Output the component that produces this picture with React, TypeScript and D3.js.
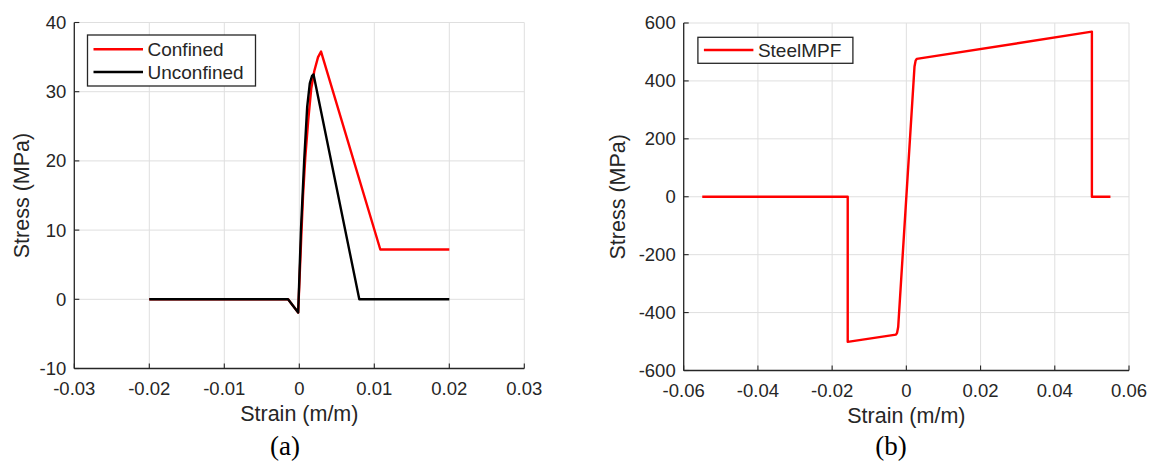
import React from 'react';
import * as d3 from 'd3';

// ---------- data ----------
const confinedStrain = [-0.02, -0.0015, -0.00015, 0.0003, 0.0005, 0.0008, 0.0012, 0.0016, 0.002, 0.0025, 0.0029, 0.0108, 0.02];
const confinedStress = [0, 0, -1.9, 10, 15, 20.5, 26, 30.5, 33, 35, 35.8, 7.2, 7.2];

const unconfinedStrain = [-0.02, -0.0015, -0.00015, 0.00022, 0.00065, 0.00105, 0.0014, 0.0017, 0.0019, 0.008, 0.02];
const unconfinedStress = [0, 0, -1.9, 10, 20, 27.8, 31.2, 32.3, 32.5, 0, 0];

const steelStrain = [-0.055, -0.0158, -0.0158, -0.0028, -0.0025, -0.0022, 0.0022, 0.0025, 0.0028, 0.05, 0.05, 0.055];
const steelStress = [0, 0, -501, -476, -470, -450, 450, 470, 476, 570, 0, 0];

const aXTicks = [-0.03, -0.02, -0.01, 0, 0.01, 0.02, 0.03];
const aXTickLabels = ['-0.03', '-0.02', '-0.01', '0', '0.01', '0.02', '0.03'];
const aYTicks = [-10, 0, 10, 20, 30, 40];
const aYTickLabels = ['-10', '0', '10', '20', '30', '40'];

const bXTicks = [-0.06, -0.04, -0.02, 0, 0.02, 0.04, 0.06];
const bXTickLabels = ['-0.06', '-0.04', '-0.02', '0', '0.02', '0.04', '0.06'];
const bYTicks = [-600, -400, -200, 0, 200, 400, 600];
const bYTickLabels = ['-600', '-400', '-200', '0', '200', '400', '600'];

const seriesNamesA = ['Confined', 'Unconfined'];
const seriesNamesB = ['SteelMPF'];
const xLabel = 'Strain (m/m)';
const yLabel = 'Stress (MPa)';
const captions = ['(a)', '(b)'];

// ---------- styling ----------
const SANS = '"Liberation Sans", Arial, Helvetica, sans-serif';
const SERIF = '"Liberation Serif", "Times New Roman", serif';
const AX = '#262626';
const GRID = '#dfdfdf';
const TICK_FS = 18.5;
const LABEL_FS = 21.5;

type Series = { xs: number[]; ys: number[]; color: string; name: string };

type PanelProps = {
  x0: number; x1: number; y0: number; y1: number;
  xDomain: [number, number]; yDomain: [number, number];
  xTicks: number[]; xTickLabels: string[];
  yTicks: number[]; yTickLabels: string[];
  series: Series[];
  legend: { x: number; y: number; w: number; h: number; firstRow: number; rowGap: number };
  yLabelX: number;
  caption: string; captionX: number;
};

function Panel(p: PanelProps) {
  const x = d3.scaleLinear().domain(p.xDomain).range([p.x0, p.x1]);
  const y = d3.scaleLinear().domain(p.yDomain).range([p.y1, p.y0]);
  const line = d3.line<[number, number]>().x(d => x(d[0])).y(d => y(d[1]));
  const tickLen = 5;
  const cx = (p.x0 + p.x1) / 2;
  const cy = (p.y0 + p.y1) / 2;
  return (
    <g>
      {/* grid */}
      {p.xTicks.map((t, i) => (
        <line key={'gx' + i} x1={x(t)} x2={x(t)} y1={p.y0} y2={p.y1} stroke={GRID} strokeWidth={1} />
      ))}
      {p.yTicks.map((t, i) => (
        <line key={'gy' + i} x1={p.x0} x2={p.x1} y1={y(t)} y2={y(t)} stroke={GRID} strokeWidth={1} />
      ))}
      {/* series */}
      {p.series.map((s, i) => (
        <path key={'s' + i} d={line(s.xs.map((v, j) => [v, s.ys[j]] as [number, number])) || ''}
          fill="none" stroke={s.color} strokeWidth={2.4} strokeLinejoin="round" />
      ))}
      {/* axes */}
      <line x1={p.x0} x2={p.x1} y1={p.y1} y2={p.y1} stroke={AX} strokeWidth={1.3} />
      <line x1={p.x0} x2={p.x0} y1={p.y0} y2={p.y1} stroke={AX} strokeWidth={1.3} />
      {p.xTicks.map((t, i) => (
        <g key={'tx' + i}>
          <line x1={x(t)} x2={x(t)} y1={p.y1} y2={p.y1 - tickLen} stroke={AX} strokeWidth={1.1} />
          <text x={x(t)} y={p.y1 + 26} textAnchor="middle" fontFamily={SANS} fontSize={TICK_FS} fill={AX}>
            {p.xTickLabels[i]}
          </text>
        </g>
      ))}
      {p.yTicks.map((t, i) => (
        <g key={'ty' + i}>
          <line x1={p.x0} x2={p.x0 + tickLen} y1={y(t)} y2={y(t)} stroke={AX} strokeWidth={1.1} />
          <text x={p.x0 - 8} y={y(t)} dy="0.35em" textAnchor="end" fontFamily={SANS} fontSize={TICK_FS} fill={AX}>
            {p.yTickLabels[i]}
          </text>
        </g>
      ))}
      {/* legend */}
      <rect x={p.legend.x} y={p.legend.y} width={p.legend.w} height={p.legend.h} fill="#fff" stroke={AX} strokeWidth={1.3} />
      {p.series.map((s, i) => {
        const ry = p.legend.y + p.legend.firstRow + i * p.legend.rowGap;
        return (
          <g key={'lg' + i}>
            <line x1={p.legend.x + 6} x2={p.legend.x + 55.5} y1={ry} y2={ry} stroke={s.color} strokeWidth={2.4} />
            <text x={p.legend.x + 60} y={ry} dy="0.35em" fontFamily={SANS} fontSize={19} fill={AX}>{s.name}</text>
          </g>
        );
      })}
      {/* labels */}
      <text x={cx} y={p.y1 + 52} textAnchor="middle" fontFamily={SANS} fontSize={LABEL_FS} fill={AX}>{xLabel}</text>
      <text transform={`translate(${p.yLabelX},${cy}) rotate(-90)`} textAnchor="middle" fontFamily={SANS} fontSize={LABEL_FS} fill={AX}>{yLabel}</text>
      <text x={p.captionX} y={455} textAnchor="middle" fontFamily={SERIF} fontSize={27} fill="#000">{p.caption}</text>
    </g>
  );
}

export default function App() {
  const seriesA: Series[] = [
    { xs: confinedStrain, ys: confinedStress, color: '#ff0000', name: seriesNamesA[0] },
    { xs: unconfinedStrain, ys: unconfinedStress, color: '#000000', name: seriesNamesA[1] },
  ];
  const seriesB: Series[] = [
    { xs: steelStrain, ys: steelStress, color: '#ff0000', name: seriesNamesB[0] },
  ];
  return (
    <svg width={1155} height={462} style={{ position: 'absolute', left: 0, top: 0, display: 'block', background: '#fff' }}>
      <rect x={0} y={0} width={1155} height={462} fill="#fff" />
      <Panel
        x0={74.3} x1={524.3} y0={22.5} y1={368.5}
        xDomain={[-0.03, 0.03]} yDomain={[-10, 40]}
        xTicks={aXTicks} xTickLabels={aXTickLabels}
        yTicks={aYTicks} yTickLabels={aYTickLabels}
        series={seriesA}
        legend={{ x: 87.5, y: 35, w: 168, h: 51, firstRow: 14.3, rowGap: 22.7 }}
        yLabelX={28.7}
        caption={captions[0]} captionX={285}
      />
      <Panel
        x0={683.7} x1={1129} y0={23} y1={370.5}
        xDomain={[-0.06, 0.06]} yDomain={[-600, 600]}
        xTicks={bXTicks} xTickLabels={bXTickLabels}
        yTicks={bYTicks} yTickLabels={bYTickLabels}
        series={seriesB}
        legend={{ x: 697.9, y: 37.3, w: 155, h: 26, firstRow: 12.7, rowGap: 22.7 }}
        yLabelX={625}
        caption={captions[1]} captionX={891}
      />
    </svg>
  );
}
